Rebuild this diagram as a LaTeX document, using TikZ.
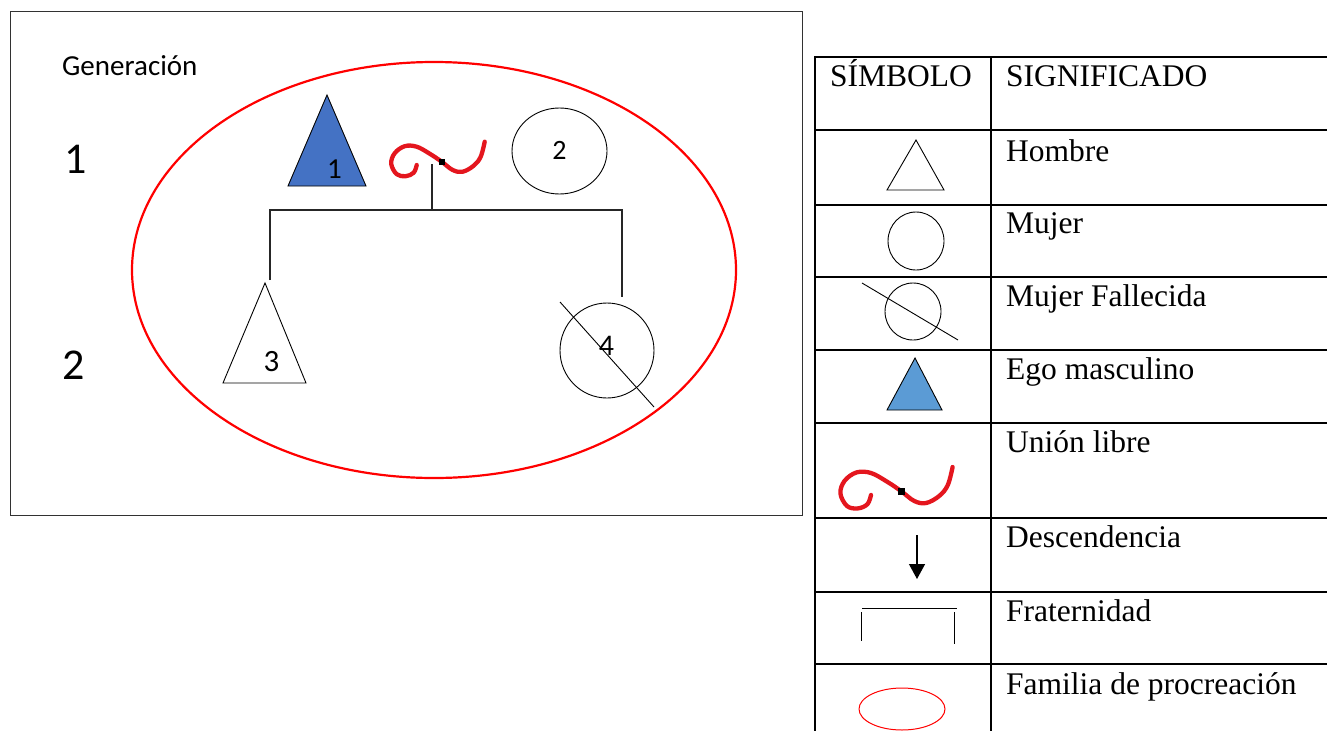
\documentclass[tikz,border=0pt]{standalone}
\usepackage{fontspec}
\setmainfont{Liberation Serif}
\newfontfamily\timesfont{Liberation Serif}
\newfontfamily\calfont{Carlito}
\usetikzlibrary{arrows.meta,shapes.geometric}
\definecolor{egoblue}{HTML}{4472C4}
\definecolor{legblue}{HTML}{5B9BD5}
\definecolor{swirlred}{RGB}{228,22,30}
\definecolor{framegray}{RGB}{50,50,50}
\tikzset{
  unionlibre/.pic={
    \draw[swirlred,line width=4.3pt,line cap=round,line join=round]
      plot[smooth,tension=0.6] coordinates {(-25,3.3) (-28,11) (-36,14.5) (-45,12.5) (-50.5,2) (-47,-8.5) (-37,-15.5) (-25,-15) (-12,-8) (0,0) (11,8.3) (21,10) (32,4) (39,-5) (43,-20)};
    \fill[black] (-2.5,-2.5) rectangle (3,3);
  },
  shapeline/.style={draw=black,line width=0.9pt},
  conn/.style={draw=black!85,line width=1.2pt},
  tabline/.style={draw=black,line width=2pt},
  numlbl/.style={inner sep=0pt,font=\calfont\fontsize{#1}{#1}\selectfont},
  tabtext/.style={inner sep=0pt,anchor=base west,font=\timesfont\fontsize{31.5}{36}\selectfont},
  fem/.style={shapeline,ellipse,inner sep=0pt},
}
\begin{document}
\begin{tikzpicture}[x=1pt,y=-1pt]
\useasboundingbox[fill=white] (0,0) rectangle (1327,731);

% ---------- left diagram ----------
\draw[framegray,line width=1pt] (10,11) rectangle (802,515);
\node[inner sep=0pt,anchor=base west,font=\calfont\fontsize{29}{30}\selectfont] (gen) at (62,75) {Generación};
\node[inner sep=0pt,anchor=base west,font=\calfont\fontsize{44}{46}\selectfont] (g1) at (64,173) {1};
\node[inner sep=0pt,anchor=base west,font=\calfont\fontsize{44}{46}\selectfont] (g2) at (62,379) {2};

\draw[red,line width=2.2pt] (434,270) ellipse [x radius=302, y radius=208];

% ego (1)
\draw[shapeline,fill=egoblue] (327,95) -- (366,186) -- (288,186) -- cycle;
\node[numlbl=29] (n1) at (334.5,169) {1};
% union
\pic at (441.7,161.7) {unionlibre};
% woman (2)
\node[fem,minimum width=95pt,minimum height=86pt] (w2) at (559.5,151) {};
\node[numlbl=28] (n2) at (559.5,150.5) {2};
% son (3)
\draw[shapeline,fill=white] (265,283) -- (306,383) -- (223,383) -- cycle;
\node[numlbl=31] (n3) at (271.5,362) {3};
% deceased woman (4)
\node[fem,minimum width=94pt,minimum height=95pt] (w4) at (607,350.5) {};
\node[numlbl=30] (n4) at (606.5,346) {4};
\coordinate (x4a) at (560,302);
\coordinate (x4b) at (654,407);
\draw[shapeline] (x4a) -- (x4b);

% descent connectors
\coordinate (u) at (432,164);
\coordinate (ub) at (432,210);
\coordinate (lt) at (270,210);
\coordinate (lb) at (270,280);
\coordinate (rt) at (622,210);
\coordinate (rb) at (622,297);
\draw[conn] (u) -- (ub);
\draw[conn] (lb) -- (lt) -- (rt) -- (rb);

% ---------- legend table ----------
\foreach \yy in {57,130,205,277,350,423,518,592,664}
  \draw[tabline] (815,\yy) -- (1327,\yy);
\draw[tabline] (815,56) -- (815,731);
\draw[tabline] (991,56) -- (991,731);

\node[tabtext] (hsym) at (830,86) {SÍMBOLO};
\node[tabtext] (hsig) at (1006,86) {SIGNIFICADO};
\node[tabtext] (t1) at (1006,161) {Hombre};
\node[tabtext] (t2) at (1006,233) {Mujer};
\node[tabtext] (t3) at (1006,306) {Mujer Fallecida};
\node[tabtext] (t4) at (1006,379) {Ego masculino};
\node[tabtext] (t5) at (1006,452) {Unión libre};
\node[tabtext] (t6) at (1006,547) {Descendencia};
\node[tabtext] (t7) at (1006,621) {Fraternidad};
\node[tabtext] (t8) at (1006,694) {Familia de procreación};

% symbols
\draw[shapeline,fill=white] (916,140) -- (944,190) -- (887,190) -- cycle;
\node[fem,minimum width=56pt,minimum height=58pt] (s2) at (916,241) {};
\node[fem,minimum width=56pt,minimum height=57pt] (s3) at (913,311.5) {};
\coordinate (s3a) at (862,283);
\coordinate (s3b) at (958,340);
\draw[shapeline] (s3a) -- (s3b);
\draw[shapeline,fill=legblue] (915,358) -- (942,410) -- (887,410) -- cycle;
\pic[scale=1.2] at (901,491) {unionlibre};
\coordinate (ar1) at (917,535);
\coordinate (ar2) at (917,579);
\draw[black,line width=1.3pt,-{Triangle[width=16pt,length=15pt]}] (ar1) -- (ar2);
\coordinate (f1) at (862,608);
\coordinate (f2) at (957,608);
\draw[black,line width=1pt] (f1) -- (f2);
\draw[black,line width=1pt] (861,612) -- (861,641);
\draw[black,line width=1pt] (954,612) -- (954,644);
\draw[red,line width=1pt] (902,709) ellipse [x radius=43, y radius=21];
\end{tikzpicture}
\end{document}
